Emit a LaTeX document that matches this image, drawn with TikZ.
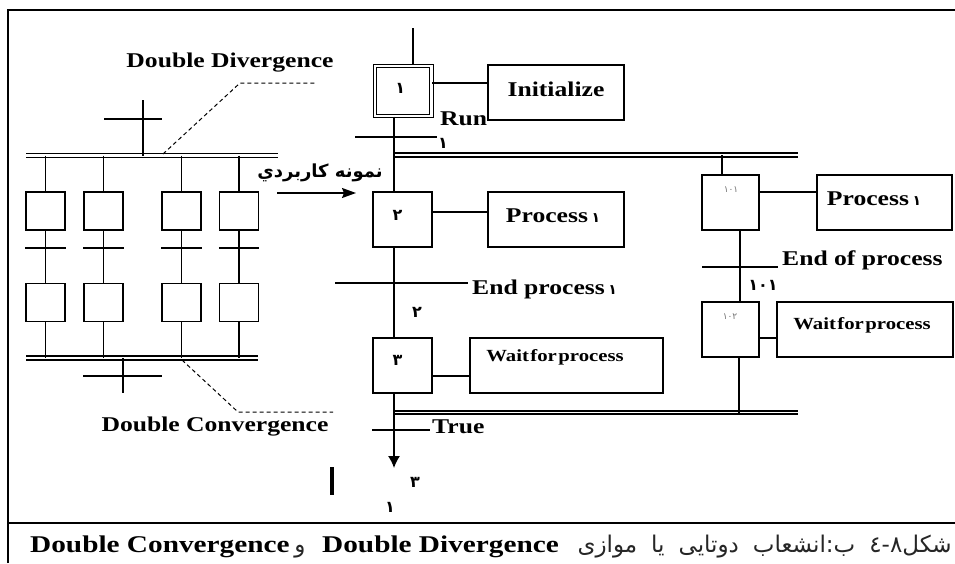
\documentclass[tikz,border=0pt]{standalone}
\usepackage{fontspec}
\setmainfont{Liberation Serif}
\newfontfamily\lblfont[FakeStretch=1.22]{Liberation Serif}
\newfontfamily\arabicfont[Script=Arabic]{DejaVu Sans}
\usetikzlibrary{arrows.meta}
\TeXXeTstate=1
\begin{document}
\begin{tikzpicture}[x=1pt,y=-1pt,
  wire/.style={line width=1.4pt},
  frame/.style={line width=2pt},
  bus/.style={line width=1.3pt, double, double distance=2.7pt},
  busb/.style={line width=1.2pt, double, double distance=1.9pt},
  leader/.style={line width=1pt, dash pattern=on 4pt off 3pt},
  stepbox/.style={draw, line width=1.4pt, minimum width=59pt, minimum height=55pt, inner sep=0pt},
  initstep/.style={draw, line width=1.2pt, double, double distance=2.4pt, minimum width=56.5pt, minimum height=50pt, inner sep=0pt},
  smallbox/.style={draw, line width=1.4pt, minimum width=39pt, minimum height=38pt, inner sep=0pt},
  actbox/.style={draw, line width=1.4pt, minimum height=55pt, inner sep=0pt},
  lbl/.style={inner sep=0pt, font=\lblfont\bfseries\fontsize{21}{24}\selectfont},
  waitlbl/.style={inner sep=0pt, font=\lblfont\bfseries\fontsize{17}{20}\selectfont},
  caplbl/.style={inner sep=0pt, font=\lblfont\bfseries\fontsize{24}{28}\selectfont},
  num/.style={inner sep=0pt, font=\arabicfont\bfseries\fontsize{16}{18}\selectfont},
  tinynum/.style={inner sep=0pt, text=black!55, font=\arabicfont\fontsize{9}{11}\selectfont},
  arab/.style={inner sep=0pt, font=\arabicfont\bfseries\fontsize{18}{22}\selectfont},
  capfa/.style={inner sep=0pt, text=black!85, font=\arabicfont\fontsize{23}{27}\selectfont},
]
\useasboundingbox (0,0) rectangle (955,563);

% outer frame and caption rule
\draw[frame] (8,563) -- (8,10) -- (955,10);
\draw[frame] (8,523) -- (955,523);

% ---------- left example: double divergence / double convergence ----------
\draw[bus] (26,155.5) -- (278,155.5);
\draw[bus] (26,358) -- (258,358);

\foreach \c/\x in {1/45.5,2/103.5,3/181.5,4/239}{
  \node[smallbox] (L\c a) at (\x,211) {};
  \node[smallbox] (L\c b) at (\x,302.5) {};
  \draw[wire] (\x,155.5) -- (L\c a.north);
  \draw[wire] (L\c a.south) -- (L\c b.north);
  \draw[wire] (L\c b.south) -- (\x,358);
  \draw[wire] (L\c a.west |- 0,248) -- (L\c a.east |- 0,248);
}
% transition above the divergence
\coordinate (dtop) at (143,100);
\draw[wire] (dtop) -- (143,155.5);
\draw[wire] (104,119) -- (162,119);
% transition below the convergence
\coordinate (cbot) at (123,393);
\draw[wire] (123,358) -- (cbot);
\draw[wire] (83,376) -- (162,376);

\node[lbl] (dd) at (230,63) {Double Divergence};
\node[lbl] (dc) at (215,427) {Double Convergence};
\draw[leader] (163,154) -- (240,83) -- (317,83);
\draw[leader] (182,360) -- (238,412) -- (333,412);

% ---------- main sequence ----------
\coordinate (m) at (394,0);
\node[initstep] (s1) at (403.25,91) {};
\node[stepbox] (s2) at (402.5,219.5) {};
\node[stepbox] (s3) at (402.5,365.5) {};
\node[num] at ([shift={(-3,-3)}]s1.center) {١};
\node[num] at ([shift={(-5,-4)}]s2.center) {٢};
\node[num] at ([shift={(-5,-5)}]s3.center) {٣};

\node[actbox, minimum width=136pt] (a1) at (556,92.5) {};
\node[actbox, minimum width=136pt] (a2) at (556,219.5) {};
\node[actbox, minimum width=193pt] (a3) at (566.5,365.5) {};
\node[lbl] at (556,89) {Initialize};
\node[lbl, anchor=base] at (553,222) {Process\,{\arabicfont\bfseries\fontsize{14}{16}\selectfont ١}};
\node[waitlbl] at (555,357) {\spaceskip=1.5pt Wait for process};

% divergence bus of the main sequence
\draw[bus] (393,155) -- (798,155);

\coordinate (in1) at (413,28);
\draw[wire] (in1) -- (in1 |- s1.north);
\draw[wire] (s1.east |- 0,83) -- (a1.west |- 0,83);
\draw[wire] (s1.south -| m) -- (s2.north -| m);
\draw[wire] (s2.east |- 0,212) -- (a2.west |- 0,212);
\draw[wire] (s2.south -| m) -- (s3.north -| m);
\draw[wire] (s3.east |- 0,376) -- (a3.west |- 0,376);

% transitions
\draw[wire] (355,137) -- (437,137);
\node[lbl, anchor=base west] at (440,125) {Run};
\node[num] at (443,143) {١};
\draw[wire] (335,283) -- (468,283);
\node[lbl, anchor=base west] at (472,294) {End process\,{\arabicfont\bfseries\fontsize{14}{16}\selectfont ١}};
\node[num] at (417,312) {٢};

% convergence bus and the last transition
\draw[busb] (393,412.5) -- (798,412.5);
\coordinate (endtip) at (394,468);
\draw[wire, -{Latex[length=12pt,width=12pt]}] (s3.south -| m) -- (endtip);
\draw[wire] (372,430) -- (430,430);
\node[lbl, anchor=base west] at (432,433) {True};
\node[num] at (415,482) {٣};
\node[num] at (390,507) {١};
\draw[line width=3.5pt] (332,467) -- (332,495);

% ---------- parallel branch ----------
\node[stepbox, minimum width=57pt] (s101) at (730.5,202.5) {};
\node[stepbox, minimum width=57pt] (s102) at (730.5,329.5) {};
\node[tinynum] at (731,190) {١\kern0pt ٠\kern0pt ١};
\node[tinynum] at (730,317) {١\kern0pt ٠\kern0pt ٢};
\node[actbox, minimum width=135pt] (a101) at (884.5,202.5) {};
\node[actbox, minimum width=176pt] (a102) at (865,329.5) {};
\node[lbl, anchor=base] at (874,205) {Process\,{\arabicfont\bfseries\fontsize{14}{16}\selectfont ١}};
\node[waitlbl] at (862,325) {\spaceskip=1.5pt Wait for process};

\draw[wire] (722,155) -- (722,0 |- s101.north);
\draw[wire] (s101.east |- 0,192) -- (a101.west |- 0,192);
\draw[wire] (740,0 |- s101.south) -- (740,0 |- s102.north);
\draw[wire] (702,267) -- (778,267);
\node[lbl, anchor=base west] at (782,265) {End of process};
\node[num] at (763,285) {١\kern0pt ٠\kern0pt ١};
\draw[wire] (s102.east |- 0,338) -- (a102.west |- 0,338);
\draw[wire] (739,0 |- s102.south) -- (739,412.5);

% sample-use arrow
\node[arab] (use) at (320,173) {\beginR نمونه کاربردي\endR};
\coordinate (ua) at (277,193);
\coordinate (ub) at (356,193);
\draw[wire, -{Stealth[length=14pt,width=10pt,inset=2pt]}] (ua) -- (ub);

% ---------- caption ----------
\node[caplbl, anchor=base west] (c1) at (30,552) {Double Convergence};
\node[capfa, anchor=base] (c2) at (300,552) {و};
\node[caplbl, anchor=base west] (c3) at (322,552) {Double Divergence};
\node[capfa, anchor=base east] (c4) at (952,552) {\spaceskip=14pt\beginR شکل۸-٤ ب:انشعاب دوتایی یا موازی\endR};
\end{tikzpicture}
\end{document}
